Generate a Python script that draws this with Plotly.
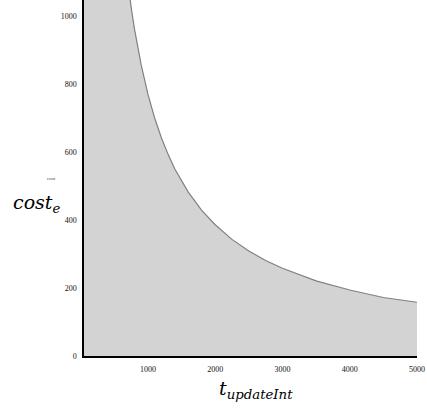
import plotly.graph_objects as go

# values
t_update = [50, 100, 200, 300, 400, 500, 600, 650, 700, 750, 800, 850, 900, 1000, 1100, 1200, 1300, 1400,
            1600, 1800, 2000, 2250, 2500, 2750, 3000, 3500, 4000, 4500, 5000]
cost_e = [15400, 7700, 3850, 2570, 1925, 1540, 1285, 1185, 1100, 1027, 962, 906, 856, 770, 700, 642, 593, 550,
          482, 428, 386, 343, 309, 281, 258, 221, 194, 172, 158]
x_ticks = [1000, 2000, 3000, 4000, 5000]
y_ticks = [0, 200, 400, 600, 800, 1000]

fig = go.Figure()
fig.add_trace(go.Scatter(
    x=t_update, y=cost_e, mode="lines", fill="tozeroy",
    fillcolor="#d3d3d3", line=dict(color="#808080", width=1.2),
    hoverinfo="skip", showlegend=False))

tick_font = dict(family="Liberation Serif", size=8, color="#111")
fig.update_layout(
    width=427, height=413,
    margin=dict(l=84, r=10, t=0, b=57),
    paper_bgcolor="white", plot_bgcolor="white",
    xaxis=dict(range=[50, 5000], tickvals=x_ticks, showgrid=False, zeroline=False,
               showline=True, linecolor="black", linewidth=1.5, ticks="",
               tickfont=tick_font, ticklabelstandoff=5, automargin=False),
    yaxis=dict(range=[0, 1047], tickvals=y_ticks, showgrid=False, zeroline=False,
               showline=True, linecolor="black", linewidth=1.5, ticks="",
               tickfont=tick_font, ticklabelstandoff=4, automargin=False),
    annotations=[
        dict(text="<i>cost<sub>e</sub></i>", xref="paper", yref="paper",
             x=(11 - 84) / 333, y=(356 - 203) / 356, xanchor="left", yanchor="middle",
             showarrow=False, font=dict(family="DejaVu Serif", size=19, color="black")),
        dict(text="cost", xref="paper", yref="paper",
             x=(51 - 84) / 333, y=(356 - 178) / 356, xanchor="center", yanchor="middle",
             showarrow=False, font=dict(family="Liberation Serif", size=5, color="#444")),
        dict(text="<i>t<sub>updateInt</sub></i>", xref="paper", yref="paper",
             x=(256 - 84) / 333, y=-(390 - 356) / 356, xanchor="center", yanchor="middle",
             showarrow=False, font=dict(family="DejaVu Serif", size=19, color="black")),
    ],
)
fig.write_html("out.html", config={"displayModeBar": False},
               post_script="document.body.style.margin='0';")
